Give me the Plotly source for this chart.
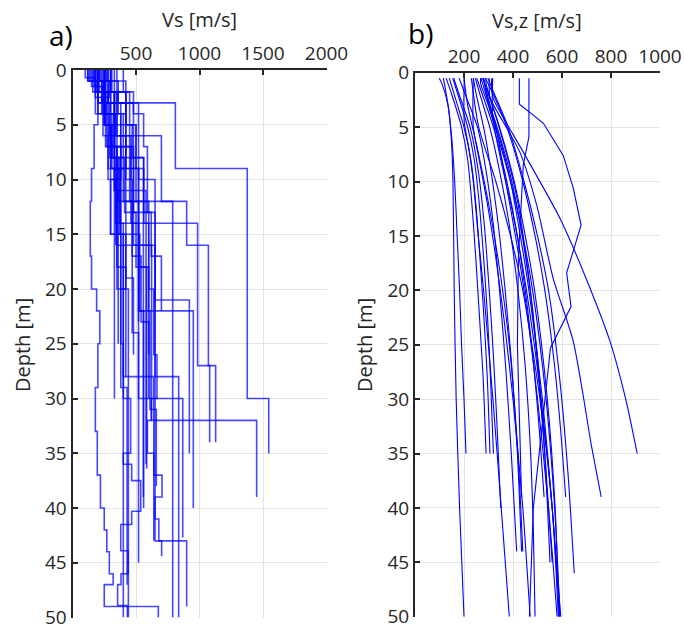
import plotly.graph_objects as go

W, H = 684, 631

# ---------------- Panel a) : layered Vs profiles (velocity per layer, layer bottom depths)
a_vel = [
    [300, 420, 810, 1376, 1545],
    [250, 330, 480, 623, 1450],
    [200, 330, 560, 985, 1127],
    [280, 450, 700, 899, 1070, 1080],
    [260, 520, 650, 920],
    [180, 380, 600, 951],
    [300, 500, 789],
    [250, 480, 650, 836],
    [200, 350, 650, 899],
    [160, 280, 520, 868],
    [230, 420, 558],
    [210, 330, 579],
    [120, 200, 170, 150, 140, 150, 190, 215, 200, 180, 195, 220, 250, 270, 290, 320, 250, 676],
    [250, 330, 380, 300, 420, 380, 400, 458, 400, 466, 537, 466, 380, 438, 382, 355, 432],
    [300, 420, 500, 560, 600, 640, 665, 620, 590, 640, 705, 650, 680, 702],
    [120, 250, 300, 400],
    [180, 260, 350, 440],
    [220, 300, 420, 330],
    [150, 240, 310, 410, 500, 600],
    [260, 350, 330, 460, 520],
    [130, 200, 270, 380],
    [330, 360, 420, 470, 560, 620, 700],
    [100, 180, 240, 280, 340],
    [190, 240, 290, 330, 360],
    [350, 420, 400, 520, 584],
    [240, 290, 250, 310, 360, 380, 420],
    [170, 250, 360, 340, 460],
    [400, 480, 560, 590],
    [270, 230, 280, 330, 300, 350, 400, 470, 540, 600],
    [210, 280, 250, 310, 370, 420, 480],
    [200, 260, 330, 370, 470, 520],
    [140, 190, 260, 300, 350, 380, 430],
    [310, 350, 450, 520, 560],
    [170, 230, 290, 340, 400, 640],
    [280, 330, 380, 420, 470, 530, 610, 660],
]
a_bot = [
    [1, 3, 9, 30, 35],
    [2, 7, 16, 32, 39],
    [3, 8, 14, 27, 34],
    [2, 6, 12, 16, 27, 34],
    [3, 10, 21, 35],
    [4, 12, 22, 40],
    [5, 12, 50],
    [3, 13, 28, 50],
    [4, 16, 43, 49],
    [2, 9, 30, 42.7],
    [3, 14, 39],
    [2, 11, 36],
    [1, 5, 9, 12, 17, 20, 22, 25, 29, 33, 37, 40, 42, 44, 46, 47, 49, 50],
    [2, 6, 10, 15, 20, 25, 30, 35, 36, 37.5, 40.3, 41.5, 43.9, 46, 47, 48.9, 50],
    [2, 5, 9, 14, 20, 26, 30, 32, 35, 37, 39, 41, 43, 44.4],
    [1, 5, 15, 50],
    [2, 7, 20, 50],
    [1, 4, 9, 30],
    [1.5, 4, 8, 13, 18, 26],
    [2, 4, 7, 14, 23],
    [1, 3, 7, 20],
    [1, 3, 5, 8, 13, 17, 22],
    [0.7, 2.5, 6, 10, 16],
    [1, 3, 6, 11, 25],
    [2, 4, 9, 18, 36.4],
    [1, 2.5, 5, 8, 12, 18, 28],
    [1, 2, 4, 6, 10],
    [2, 4, 7, 13],
    [1, 2, 3, 5, 7, 9, 12, 17, 23, 30],
    [1, 3, 5, 9, 14, 19, 26],
    [1, 4, 8, 15, 24, 45],
    [1, 2, 5, 9, 18, 29, 47],
    [2, 6, 12, 22, 40],
    [1.5, 4, 8, 14, 28, 43],
    [1, 3, 6, 10, 15, 22, 31, 38],
]

# ---------------- Panel b) : Vs,z curves (depth knots, velocities)
b_z = [
    [0.5, 1, 3, 6, 10, 20, 30, 40, 50],
    [0.5, 1, 3, 6, 10, 15, 20, 25, 30, 35],
    [0.5, 2, 5, 8, 12, 17, 22, 28, 35],
    [0.5, 2, 5, 8, 12, 17, 22, 28, 35],
    [0.5, 2, 5, 8, 12, 17, 22, 28, 35],
    [0.5, 2, 5, 9, 14, 20, 26, 33, 40],
    [0.5, 4.5, 7, 10, 15, 20, 30, 40, 50],
    [0.5, 2, 5, 9, 14, 20, 27, 35, 44],
    [0.5, 2, 5, 9, 14, 20, 27, 35, 44],
    [0.5, 5, 8, 12, 17, 23, 30, 40, 50],
    [0.5, 2, 5, 9, 14, 20, 27, 35, 42, 50],
    [0.5, 2, 5, 9, 14, 20, 27, 33, 39],
    [0.5, 2, 5, 9, 14, 20, 28, 36, 45],
    [0.5, 2, 5, 10, 15, 20, 30, 40, 50],
    [0.5, 3, 6, 10, 15, 20, 30, 40, 50],
    [0.5, 2, 5, 10, 15, 20, 27, 33, 39],
    [0.5, 2, 5, 10, 15, 20, 28, 37, 46],
    [0.5, 1.5, 2.3, 7.3, 12.2, 18.9, 24.7, 34.4, 39],
    [0.5, 1.5, 2.4, 7.3, 13.4, 19, 24.7, 30, 35],
    [0.5, 4, 8, 13, 20, 30, 40, 50],
    [0.5, 5, 10, 15, 20, 30, 40, 50],
    [0.5, 1, 3, 6, 10, 15, 20, 30, 40, 50],
    [0.5, 2, 5, 10, 15, 20, 30, 40, 50],
    [0.5, 1, 4, 8, 12, 18, 25, 35, 45],
    [0.5, 3, 7, 12, 18, 25, 35, 44],
]
b_v = [
    [99, 110, 135, 148, 155, 160, 168, 182, 200],
    [116, 120, 135, 150, 162, 172, 182, 190, 200, 208],
    [127, 150, 190, 215, 232, 248, 262, 278, 290],
    [140, 160, 200, 228, 248, 265, 280, 295, 306],
    [154, 175, 215, 242, 262, 280, 295, 308, 320],
    [158, 180, 225, 258, 283, 303, 320, 336, 350],
    [201, 201, 220, 238, 258, 280, 318, 352, 385],
    [180, 205, 255, 290, 320, 345, 370, 393, 415],
    [238, 250, 280, 310, 340, 368, 395, 418, 435],
    [238, 238, 262, 295, 330, 365, 400, 440, 470],
    [246, 265, 305, 345, 385, 420, 450, 472, 483, 490],
    [252, 275, 320, 365, 410, 450, 485, 508, 527],
    [269, 290, 335, 385, 430, 470, 505, 532, 551],
    [275, 300, 345, 405, 450, 488, 540, 572, 588],
    [280, 300, 340, 390, 440, 480, 535, 570, 592],
    [287, 320, 375, 440, 490, 530, 570, 595, 615],
    [297, 325, 380, 445, 500, 545, 590, 625, 650],
    [303, 303, 306, 428, 497, 564, 646, 721, 760],
    [313, 313, 320, 442, 592, 700, 796, 860, 907],
    [317, 317, 350, 400, 455, 515, 560, 590],
    [230, 260, 330, 390, 440, 510, 560, 585],
    [268, 268, 300, 345, 390, 430, 465, 520, 560, 595],
    [280, 295, 330, 370, 410, 445, 500, 545, 580],
    [290, 290, 330, 380, 420, 460, 495, 530, 560],
    [200, 215, 255, 300, 345, 385, 420, 440],
]
# profiles with sharp kinks (drawn with straight segments)
k_z = [
    [0.5, 2.9, 3.9, 4.65, 7.6, 10.6, 14, 18.4, 21.5, 25.3, 40, 50],
    [0.5, 5.9, 8.5, 17, 25, 32, 39],
]
k_v = [
    [426, 426, 483, 524, 605, 646, 678, 619, 637, 553, 483, 467],
    [465, 465, 442, 422, 418, 425, 435],
]

a_ticks = [500, 1000, 1500, 2000]
b_ticks = [200, 400, 600, 800, 1000]
depth_ticks = [0, 5, 10, 15, 20, 25, 30, 35, 40, 45, 50]

FONT = "Open Sans"
TXT = "#262626"
BLUE_A = "rgba(0,0,255,0.72)"
BLUE_B = "rgb(0,0,255)"

fig = go.Figure()

for vel, bot in zip(a_vel, a_bot):
    xs = list(vel) + [vel[-1]]
    ys = [0] + list(bot)
    fig.add_trace(go.Scatter(x=xs, y=ys, mode="lines", line=dict(color=BLUE_A, width=1.6, shape="vh"),
                             xaxis="x", yaxis="y", showlegend=False, hoverinfo="skip"))

for z, v in zip(b_z, b_v):
    fig.add_trace(go.Scatter(x=v, y=z, mode="lines", line=dict(color=BLUE_B, width=1.1, shape="spline", smoothing=0.7),
                             xaxis="x2", yaxis="y2", showlegend=False, hoverinfo="skip"))
for z, v in zip(k_z, k_v):
    fig.add_trace(go.Scatter(x=v, y=z, mode="lines", line=dict(color=BLUE_B, width=1.1),
                             xaxis="x2", yaxis="y2", showlegend=False, hoverinfo="skip"))

def px_x(p):
    return p / W

def px_y(p):
    return 1 - p / H

axis_common = dict(showline=True, linewidth=2, linecolor=TXT, ticks="inside", ticklen=5, tickwidth=2,
                   tickcolor=TXT, showgrid=True, gridcolor="#e3e3e3", gridwidth=1, zeroline=False,
                   mirror=False, automargin=False, ticklabeloverflow="allow",
                   tickfont=dict(family=FONT, size=19, color=TXT))

fig.update_layout(
    width=W, height=H, margin=dict(l=0, r=0, t=0, b=0),
    paper_bgcolor="white", plot_bgcolor="white", showlegend=False,
    xaxis=dict(domain=[px_x(72.5), px_x(326.5)], range=[0, 2000], side="top", anchor="y",
               tickvals=a_ticks, **axis_common),
    yaxis=dict(domain=[px_y(617.5), px_y(70)], range=[50, 0], anchor="x", tickvals=depth_ticks, **axis_common),
    xaxis2=dict(domain=[px_x(415), px_x(660)], range=[0, 1000], side="top", anchor="y2",
                tickvals=b_ticks, **axis_common),
    yaxis2=dict(domain=[px_y(616.7), px_y(72.7)], range=[50, 0], anchor="x2", tickvals=depth_ticks, **axis_common),
)

ann = [
    dict(text="Vs [m/s]", x=px_x(199.5), y=px_y(20), size=20, angle=0),
    dict(text="Vs,z [m/s]", x=px_x(537), y=px_y(21), size=20, angle=0),
    dict(text="Depth [m]", x=px_x(22), y=px_y(345), size=20, angle=-90),
    dict(text="Depth [m]", x=px_x(364), y=px_y(345), size=20, angle=-90),
    dict(text="a)", x=px_x(61), y=px_y(35), size=28, angle=0),
    dict(text="b)", x=px_x(421), y=px_y(33), size=28, angle=0),
]
for a in ann:
    fig.add_annotation(text=a["text"], x=a["x"], y=a["y"], xref="paper", yref="paper",
                       xanchor="center", yanchor="middle", showarrow=False, textangle=a["angle"],
                       font=dict(family=FONT, size=a["size"], color="black" if a["size"] == 28 else TXT))

fig.write_html("out.html")
